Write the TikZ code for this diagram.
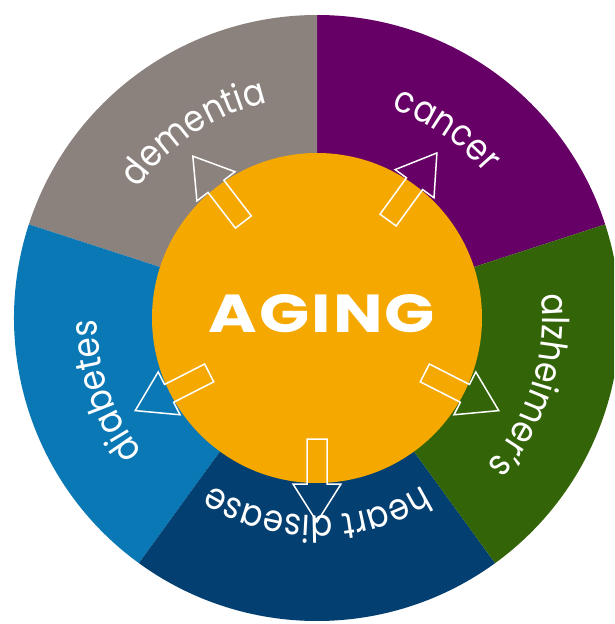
\documentclass[tikz,border=0pt]{standalone}
\usepackage{fontspec}
\usepackage{graphicx}
\setmainfont{Poppins}
\newfontfamily\labelfont[FakeStretch=0.88]{Poppins}
\newfontfamily\centerfont[LetterSpace=3]{Poppins}
\usetikzlibrary{decorations.text}
\definecolor{cgray}{HTML}{8B827E}
\definecolor{cpurple}{HTML}{660066}
\definecolor{cgreen}{HTML}{336508}
\definecolor{cnavy}{HTML}{033F70}
\definecolor{cblue}{HTML}{0A78B5}
\definecolor{corange}{HTML}{F4A800}
\tikzset{
  arrowline/.style={draw=white, line width=1.5pt, line join=miter},
  curvelabel/.style={decorate, decoration={text along path, text align=center, text={|\color{white}\labelfont\fontsize{37}{37}\selectfont|#1}}}
}
\begin{document}
\begin{tikzpicture}[x=1pt,y=1pt]
\useasboundingbox (0,0) rectangle (614,-624);
\clip (0,0) rectangle (614,-624);
\fill[white] (0,0) rectangle (614,-624);
\coordinate (O) at (317,-318);
% outer segments
\fill[cpurple] (O) -- ++(18:303) arc[start angle=18,end angle=90,radius=303] -- cycle;
\fill[cgray] (O) -- ++(90:303) arc[start angle=90,end angle=162,radius=303] -- cycle;
\fill[cblue] (O) -- ++(162:303) arc[start angle=162,end angle=234,radius=303] -- cycle;
\fill[cnavy] (O) -- ++(234:303) arc[start angle=234,end angle=306,radius=303] -- cycle;
\fill[cgreen] (O) -- ++(306:303) arc[start angle=306,end angle=378,radius=303] -- cycle;
% inner circle
\fill[corange] (O) circle[radius=165];
% arrows
\foreach \a in {127.5,54,-27,207,-90}{
  \draw[arrowline, shift={(O)}, rotate=\a] (121,-10) -- (166,-10) -- (166,-24) -- (204,0) -- (166,24) -- (166,10) -- (121,10) -- cycle;
}
% labels
\path[curvelabel={dementia}] (O) ++(193.5:221) arc[start angle=193.5,end angle=53.5,radius=221];
\path[curvelabel={cancer}] (O) ++(125.5:222) arc[start angle=125.5,end angle=-14.5,radius=222];
\path[curvelabel={alzheimer’s}] (O) ++(52.5:225) arc[start angle=52.5,end angle=-87.5,radius=225];
\path[curvelabel={heart disease}] (O) ++(-20:198) arc[start angle=-20,end angle=-160,radius=198];
\path[curvelabel={diabetes}] (O) ++(269:220) arc[start angle=269,end angle=129,radius=220];
% center text
\node[inner sep=0pt, text=white] (aging) at (322,-314) {\resizebox{226pt}{38pt}{\centerfont\bfseries AGING}};
\end{tikzpicture}
\end{document}
